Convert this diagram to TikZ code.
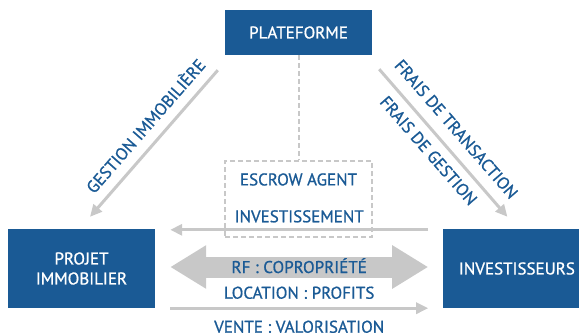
\documentclass[tikz,border=0pt]{standalone}
\usepackage{fontspec}
\setmainfont{PT Sans}[FakeBold=0.9]
\usetikzlibrary{arrows.meta,positioning}
\definecolor{navy}{HTML}{1A5A95}
\definecolor{mist}{HTML}{C8C8C8}

\begin{document}
\begin{tikzpicture}[x=1pt, y=-1pt,
      box/.style={fill=navy, text=white, minimum width=147pt, align=center, inner sep=0pt, font=\fontsize{17}{20}\selectfont},
      lbl/.style={text=navy, inner sep=0pt, text height=12pt, text depth=0pt, font=\fontsize{17}{20}\selectfont},
      arr/.style={draw=mist, line width=3pt, -{Triangle[length=12pt,width=11pt]}},
      bigarr/.style={draw=mist, line width=21pt, {Triangle[length=36pt,width=41pt]}-{Triangle[length=36pt,width=41pt]}},
      dashline/.style={draw=mist, line width=2pt, dash pattern=on 5pt off 3pt}
    ]
    \useasboundingbox (0,0) rectangle (579,333);
    \node[box, minimum height=45pt] (plat) at (298.5,32.5) {PLATEFORME};
    \node[box, minimum height=79pt] (proj) at (81.5,268.5) {PROJET\\IMMOBILIER};
    \node[box, minimum height=79pt, right=288pt of proj] (inv) {INVESTISSEURS};
    \node[dashline, minimum width=147pt, minimum height=76pt, below=105pt of plat] (escrow) {};
    \node[lbl, below=13pt of escrow.north] (escrowlbl) {ESCROW AGENT};

    \draw[dashline] (plat) -- (escrow);
    \draw[arr] ([shift={(-7,15)}]plat.south west) -- node[lbl, sloped, pos=0.46, above=10pt] (gestimmo) {GESTION IMMOBILIÈRE} ([shift={(8.5,-12)}]proj.north);
    \draw[arr] ([shift={(7,14)}]plat.south east) -- node[lbl, sloped, pos=0.49, above=11.5pt] (fraistr) {FRAIS DE TRANSACTION}
      node[lbl, sloped, pos=0.48, below=8.5pt] (fraisge) {FRAIS DE GESTION} ([shift={(-9.5,-12)}]inv.north);
    \draw[arr, shorten <=15pt, shorten >=15pt] ([yshift=-1pt]inv.north west) -- node[lbl, above=6pt] (investlbl) {INVESTISSEMENT} ([yshift=-1pt]proj.north east);
    \draw[bigarr, shorten <=15pt, shorten >=15pt] ([yshift=1.5pt]proj.east) -- node[lbl] (rflbl) {RF : COPROPRIÉTÉ} ([yshift=1.5pt]inv.west);
    \draw[arr, shorten <=15pt, shorten >=15pt] (proj.south east) -- node[lbl, above=8pt] (loclbl) {LOCATION : PROFITS}
      node[lbl, below=11pt] (ventelbl) {VENTE : VALORISATION} (inv.south west);
  \end{tikzpicture}
\end{document}
